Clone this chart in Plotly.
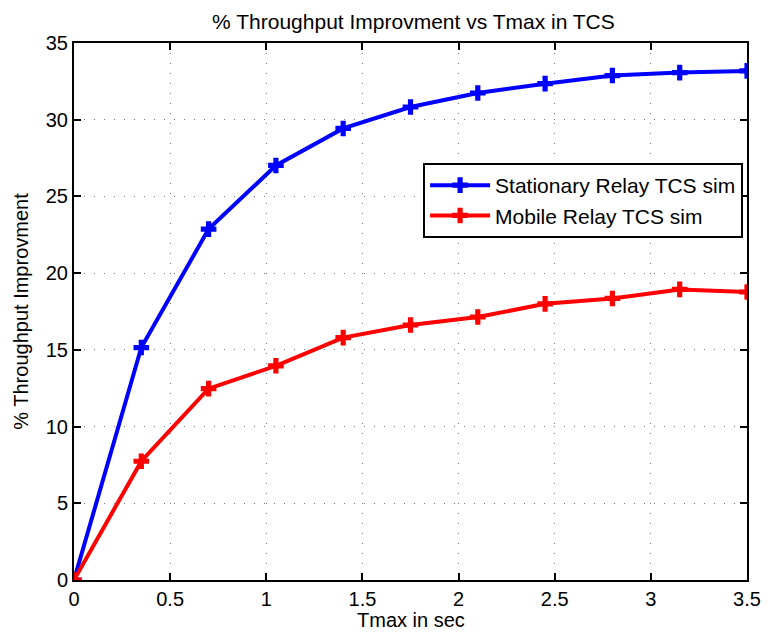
import plotly.graph_objects as go

tmax = [0, 0.35, 0.7, 1.05, 1.4, 1.75, 2.1, 2.45, 2.8, 3.15, 3.5]
stationary = [0, 15.15, 22.87, 27.02, 29.43, 30.83, 31.74, 32.35, 32.88, 33.07, 33.18]
mobile = [0, 7.74, 12.47, 13.96, 15.8, 16.62, 17.14, 18.0, 18.35, 18.94, 18.77]

x_ticks = [0, 0.5, 1, 1.5, 2, 2.5, 3, 3.5]
x_labels = ["0", "0.5", "1", "1.5", "2", "2.5", "3", "3.5"]
y_ticks = [0, 5, 10, 15, 20, 25, 30, 35]

FONT = "Liberation Sans, Arial, Helvetica, sans-serif"

fig = go.Figure()
fig.add_trace(go.Scatter(
    x=tmax, y=stationary, mode="lines+markers", name="Stationary Relay TCS sim",
    line=dict(color="#0000ff", width=4),
    marker=dict(symbol="cross", size=13, color="#0000ff"),
))
fig.add_trace(go.Scatter(
    x=tmax, y=mobile, mode="lines+markers", name="Mobile Relay TCS sim",
    line=dict(color="#ff0000", width=4),
    marker=dict(symbol="cross", size=13, color="#ff0000"),
))

axis_common = dict(
    showline=True, linecolor="black", linewidth=2, mirror="allticks",
    ticks="inside", ticklen=7, tickwidth=1.5, tickcolor="black",
    showgrid=True, gridcolor="#777777", griddash="1px,9px", gridwidth=1,
    zeroline=False, tickfont=dict(size=20, color="black", family=FONT),
)

# page body has an 8px default margin, so the figure is 8px smaller than the window
fig.update_layout(
    width=765, height=624,
    paper_bgcolor="white", plot_bgcolor="white",
    margin=dict(l=64, r=17, t=35, b=52),
    font=dict(family=FONT, size=20, color="black"),
    title=dict(text="% Throughput Improvment vs Tmax in TCS", x=0.530, xanchor="center",
               y=0.9776, yanchor="middle", font=dict(size=21, color="black")),
    xaxis=dict(range=[0, 3.5], tickvals=x_ticks, ticktext=x_labels, **axis_common),
    yaxis=dict(range=[0, 35], tickvals=y_ticks,
               title=dict(text="% Throughput Improvment", standoff=12, font=dict(size=20)), **axis_common),
    legend=dict(x=0.9942, xanchor="right", y=0.7765, yanchor="top",
                bgcolor="white", bordercolor="black", borderwidth=2,
                font=dict(size=21, color="black"), tracegroupgap=0, itemwidth=60),
    showlegend=True,
    annotations=[dict(text="Tmax in sec", xref="paper", yref="paper", x=0.5, y=-0.0745,
                      xanchor="center", yanchor="middle", showarrow=False,
                      font=dict(size=20, color="black", family=FONT))],
)

fig.write_html("out.html")
